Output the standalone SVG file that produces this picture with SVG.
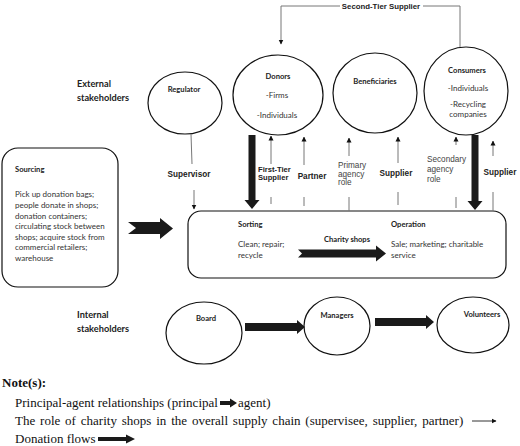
<svg xmlns="http://www.w3.org/2000/svg" width="520" height="446" viewBox="0 0 520 446">
<defs>
<style>
.node{fill:#fff;stroke:#111;stroke-width:1.2}
.cb{font-family:Lato,"Liberation Sans",sans-serif;font-weight:bold;fill:#222;font-size:7.6px}
.cr{font-family:Lato,"Liberation Sans",sans-serif;fill:#333;font-size:8px}
.hb{font-family:Lato,"Liberation Sans",sans-serif;font-weight:bold;fill:#222;font-size:9.2px}
.ab{font-family:"Liberation Sans",Arial,sans-serif;font-weight:bold;fill:#222;font-size:8.2px}
.ar{font-family:"Liberation Sans",Arial,sans-serif;fill:#444;font-size:8.2px}
.tn{font-family:"Liberation Serif","Times New Roman",serif;fill:#111;font-size:13px}
.thin{fill:none;stroke:#777;stroke-width:1}
.thick{fill:#1a1a1a;stroke:none}
</style>
<marker id="ah" viewBox="0 0 10 10" refX="9" refY="5" markerWidth="5" markerHeight="6" markerUnits="userSpaceOnUse" orient="auto">
<path d="M0,0 L10,5 L0,10 z" fill="#111"/>
</marker>
</defs>
<rect width="520" height="446" fill="#fff"/>

<text class="hb" x="77" y="87">External</text>
<text class="hb" x="77" y="101">stakeholders</text>
<text class="hb" x="77" y="318">Internal</text>
<text class="hb" x="77" y="332">stakeholders</text>

<g id="regulator">
<ellipse class="node" cx="185" cy="103" rx="37" ry="31"/>
<text class="cb" x="184" y="92" text-anchor="middle">Regulator</text>
</g>
<g id="donors">
<ellipse class="node" cx="278" cy="95" rx="45" ry="40"/>
<text class="cb" x="278" y="79" text-anchor="middle">Donors</text>
<text class="cr" x="277" y="98" text-anchor="middle">-Firms</text>
<text class="cr" x="277" y="118" text-anchor="middle">-Individuals</text>
</g>
<g id="beneficiaries">
<ellipse class="node" cx="375" cy="93" rx="42" ry="40"/>
<text class="cb" x="375" y="84" text-anchor="middle">Beneficiaries</text>
</g>
<g id="consumers">
<ellipse class="node" cx="466" cy="91" rx="42" ry="44"/>
<text class="cb" x="467" y="73" text-anchor="middle">Consumers</text>
<text class="cr" x="468" y="91" text-anchor="middle">-Individuals</text>
<text class="cr" x="468" y="107" text-anchor="middle">-Recycling</text>
<text class="cr" x="468" y="117" text-anchor="middle">companies</text>
</g>
<g id="sourcing">
<rect class="node" x="2" y="148" width="116" height="139" rx="16"/>
<text class="cb" x="15" y="172">Sourcing</text>
<text class="cr" x="15" y="197">Pick up donation bags;</text>
<text class="cr" x="15" y="208">people donate in shops;</text>
<text class="cr" x="15" y="218.5">donation containers;</text>
<text class="cr" x="15" y="229">circulating stock between</text>
<text class="cr" x="15" y="239.5">shops; acquire stock from</text>
<text class="cr" x="15" y="250">commercial retailers;</text>
<text class="cr" x="15" y="260.5">warehouse</text>
</g>
<g id="charity-shops">
<rect class="node" x="188" y="211" width="318" height="67" rx="13"/>
<text class="cb" x="238" y="227">Sorting</text>
<text class="cr" x="238" y="247">Clean; repair;</text>
<text class="cr" x="238" y="258">recycle</text>
<text class="cb" x="347" y="242" text-anchor="middle">Charity shops</text>
<text class="cb" x="391" y="227">Operation</text>
<text class="cr" x="391" y="247">Sale; marketing;  charitable</text>
<text class="cr" x="391" y="258">service</text>
</g>
<g id="board">
<ellipse class="node" cx="204" cy="333" rx="38" ry="31"/>
<text class="cb" x="206" y="321" text-anchor="middle">Board</text>
</g>
<g id="managers">
<ellipse class="node" cx="337" cy="326" rx="33" ry="29"/>
<text class="cb" x="337" y="318" text-anchor="middle">Managers</text>
</g>
<g id="volunteers">
<ellipse class="node" cx="473" cy="325" rx="36" ry="28"/>
<text class="cb" x="482" y="317" text-anchor="middle">Volunteers</text>
</g>

<g id="connectors">
<path class="thin" d="M460,47 V6 H423"/>
<path class="thin" d="M340,6 H281 V44" marker-end="url(#ah)"/>
<text class="ab" x="381" y="9" text-anchor="middle" style="font-size:7.8px">Second-Tier Supplier</text>
<path class="thin" d="M191,134 L192,164"/>
<path class="thin" d="M194,190 V209" marker-end="url(#ah)"/>
<text class="ab" x="189" y="177" text-anchor="middle">Supervisor</text>
<polygon class="thick" points="248.5,135 255.5,135 255.5,200 259.5,200 252,209 244.5,200 248.5,200"/>
<path class="thin" d="M271,164 V136" marker-end="url(#ah)"/>
<path class="thin" d="M271,197 V204"/>
<text class="ab" x="258" y="172" style="font-size:7.6px">First-Tier</text>
<text class="ab" x="258" y="179.5" style="font-size:7.6px">Supplier</text>
<path class="thin" d="M304,165 V137" marker-end="url(#ah)"/>
<path class="thin" d="M304,197 V206"/>
<text class="ab" x="312" y="179" text-anchor="middle">Partner</text>
<path class="thin" d="M349,156 V138" marker-end="url(#ah)"/>
<path class="thin" d="M349,197 V211"/>
<text class="ar" x="338" y="168">Primary</text>
<text class="ar" x="338" y="176.5">agency</text>
<text class="ar" x="338" y="185">role</text>
<path class="thin" d="M398,163 V137" marker-end="url(#ah)"/>
<path class="thin" d="M398,192 V205"/>
<text class="ab" x="396" y="176" text-anchor="middle">Supplier</text>
<path class="thin" d="M456,145 V137" marker-end="url(#ah)"/>
<path class="thin" d="M456,197 V208"/>
<text class="ar" x="427" y="162">Secondary</text>
<text class="ar" x="427" y="172">agency</text>
<text class="ar" x="427" y="182">role</text>
<polygon class="thick" points="471.5,135 478.5,135 478.5,201 482.5,201 475,210 467.5,201 471.5,201"/>
<path class="thin" d="M493,156 V141" marker-end="url(#ah)"/>
<path class="thin" d="M493,192 V211"/>
<text class="ab" x="500" y="175" text-anchor="middle">Supplier</text>
<polygon class="thick" points="128,222 160,222 160,218 173,228.5 160,239 160,234 128,234 136,228"/>
<polygon class="thick" points="298,249.5 376,249.5 376,245.5 386,253.5 376,261.5 376,257.5 298,257.5 302,253.5"/>
<polygon class="thick" points="245,323 297,323 297,320 305,327 297,334 297,331 245,331"/>
<polygon class="thick" points="375,318 426,318 426,315 434,322 426,329 426,326 375,326"/>
</g>

<g id="legend">
<text class="tn" x="2" y="387" font-weight="bold">Note(s):</text>
<text class="tn" x="15" y="407">Principal-agent relationships (principal</text>
<polygon class="thick" points="220,401 230,401 230,398.5 237,403 230,407.5 230,405 220,405"/>
<text class="tn" x="238" y="407">agent)</text>
<text class="tn" x="15" y="425" word-spacing="1.6">The role of charity shops in the overall supply chain (supervisee, supplier, partner)</text>
<path d="M472,421 H496" stroke="#333" stroke-width="1" marker-end="url(#ah)"/>
<text class="tn" x="15" y="443">Donation flows</text>
<polygon class="thick" points="98,437 126,437 126,434.5 135,439 126,443.5 126,441 98,441"/>
</g>
</svg>
